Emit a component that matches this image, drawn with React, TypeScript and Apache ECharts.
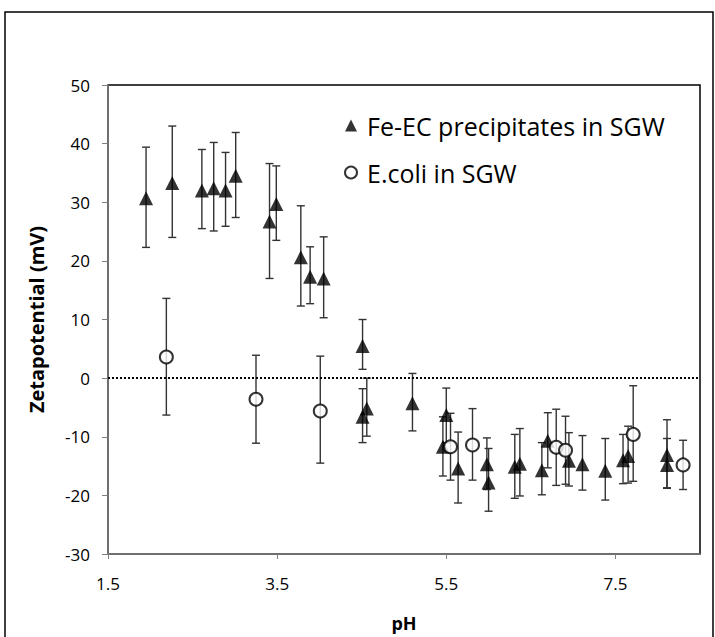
import React, { useEffect, useRef } from "react";
import * as echarts from "echarts";

const feX = [1.95, 2.26, 2.61, 2.75, 2.89, 3.01, 3.41, 3.49, 3.78, 3.89, 4.05, 4.51, 4.51, 4.56, 5.10, 5.50, 5.46, 5.64, 5.98, 6.00, 6.31, 6.37, 6.63, 6.70, 6.95, 7.11, 7.38, 7.59, 7.65, 8.11, 8.11];
const feY = [30.7, 33.3, 32.0, 32.4, 32.0, 34.5, 26.7, 29.7, 20.6, 17.3, 17.0, 5.5, -6.6, -5.2, -4.3, -6.3, -11.7, -15.4, -14.7, -17.8, -15.1, -14.6, -15.7, -10.7, -14.1, -14.7, -15.8, -14.0, -13.3, -13.1, -14.8];
const feHi = [39.4, 43.0, 39.0, 40.2, 38.5, 41.9, 36.6, 36.2, 29.4, 22.4, 24.1, 10.0, -1.8, 0.0, 0.8, -1.7, -6.6, -9.2, -10.2, -12.0, -9.6, -8.6, -11.0, -5.9, -9.3, -9.8, -10.3, -9.6, -8.2, -7.1, -10.3];
const feLo = [22.3, 24.0, 25.5, 25.1, 25.9, 27.4, 17.0, 23.5, 12.3, 12.7, 10.3, 1.5, -11.0, -9.9, -9.0, -11.0, -16.7, -21.3, -19.0, -22.7, -20.5, -20.1, -19.9, -15.3, -18.4, -19.1, -20.8, -18.0, -17.9, -18.8, -18.7];

const ecX = [2.19, 3.25, 4.01, 5.55, 5.81, 6.80, 6.91, 7.71, 8.30];
const ecY = [3.6, -3.6, -5.6, -11.7, -11.4, -11.8, -12.3, -9.6, -14.8];
const ecHi = [13.6, 3.9, 3.75, -6.0, -5.2, -5.3, -6.5, -1.3, -10.6];
const ecLo = [-6.3, -11.1, -14.5, -17.4, -17.4, -18.3, -18.1, -17.6, -19.0];

const seriesNames = ["Fe-EC precipitates in SGW", "E.coli in SGW"];
const xTitle = "pH";
const yTitle = "Zetapotential (mV)";

const FONT = "'Open Sans', sans-serif";

function errRender(params: any, api: any) {
  const x = api.value(0);
  const lo = api.coord([x, api.value(1)]);
  const hi = api.coord([x, api.value(2)]);
  const cap = 4;
  const style = { stroke: "#333", lineWidth: 1.4 };
  return {
    type: "group",
    children: [
      { type: "line", shape: { x1: lo[0], y1: lo[1], x2: hi[0], y2: hi[1] }, style },
      { type: "line", shape: { x1: lo[0] - cap, y1: lo[1], x2: lo[0] + cap, y2: lo[1] }, style },
      { type: "line", shape: { x1: hi[0] - cap, y1: hi[1], x2: hi[0] + cap, y2: hi[1] }, style },
    ],
  };
}

export default function App() {
  const ref = useRef<HTMLDivElement>(null);
  useEffect(() => {
    if (!ref.current) return;
    const chart = echarts.init(ref.current, null, { renderer: "svg" });
    const feErr = feX.map((x, i) => [x, feLo[i], feHi[i]]);
    const ecErr = ecX.map((x, i) => [x, ecLo[i], ecHi[i]]);
    chart.setOption({
      animation: false,
      backgroundColor: "#fff",
      textStyle: { fontFamily: FONT },
      graphic: [
        {
          type: "rect",
          shape: { x: 5, y: 12, width: 708, height: 640 },
          style: { fill: "none", stroke: "#000", lineWidth: 1.5 },
          z: 100,
        },
      ],
      grid: {
        left: 108,
        right: 15,
        top: 85,
        bottom: 83,
        show: true,
        borderColor: "#000",
        borderWidth: 1.5,
        backgroundColor: "#fff",
      },
      legend: {
        orient: "vertical",
        left: 339,
        top: 108,
        itemGap: 22,
        itemWidth: 12,
        itemHeight: 12,
        textStyle: { fontFamily: FONT, fontSize: 25, color: "#000", padding: [0, 0, 0, 5] },
        data: [
          { name: seriesNames[0], icon: "triangle" },
          { name: seriesNames[1], icon: "circle" },
        ],
      },
      xAxis: {
        type: "value",
        min: 1.5,
        max: 8.5,
        interval: 2,
        name: xTitle,
        nameLocation: "middle",
        nameGap: 60,
        nameTextStyle: { fontFamily: FONT, fontSize: 18, fontWeight: "bold", color: "#000" },
        axisLine: { show: true, onZero: false, lineStyle: { color: "#808080", width: 1.5 } },
        axisTick: { show: true, inside: false, length: 5, lineStyle: { color: "#808080" } },
        axisLabel: {
          margin: 21,
          fontSize: 17,
          color: "#000",
          fontFamily: FONT,
          showMaxLabel: false,
          formatter: (v: number) => v.toFixed(1),
        },
        splitLine: { show: false },
      },
      yAxis: {
        type: "value",
        min: -30,
        max: 50,
        interval: 10,
        name: yTitle,
        nameLocation: "middle",
        nameGap: 62,
        nameTextStyle: { fontFamily: FONT, fontSize: 20, fontWeight: "bold", color: "#000" },
        axisLine: { show: true, onZero: false, lineStyle: { color: "#808080", width: 1.5 } },
        axisTick: { show: true, inside: false, length: 6, lineStyle: { color: "#808080" } },
        axisLabel: { margin: 18, fontSize: 17, color: "#000", fontFamily: FONT },
        splitLine: { show: false },
      },
      series: [
        {
          type: "custom",
          name: "feErr",
          renderItem: errRender,
          data: feErr,
          z: 2,
          silent: true,
          encode: { x: 0, y: [1, 2] },
        },
        {
          type: "custom",
          name: "ecErr",
          renderItem: errRender,
          data: ecErr,
          z: 2,
          silent: true,
          encode: { x: 0, y: [1, 2] },
        },
        {
          type: "scatter",
          name: seriesNames[0],
          symbol: "triangle",
          symbolSize: 14,
          itemStyle: { color: "#000" },
          data: feX.map((x, i) => [x, feY[i]]),
          z: 5,
          markLine: {
            silent: true,
            symbol: "none",
            label: { show: false },
            lineStyle: { color: "#000", type: [2, 2], width: 2.2 },
            data: [{ yAxis: 0 }],
          },
        },
        {
          type: "scatter",
          name: seriesNames[1],
          symbol: "circle",
          symbolSize: 13,
          itemStyle: { color: "#fff", borderColor: "#000", borderWidth: 2 },
          data: ecX.map((x, i) => [x, ecY[i]]),
          z: 6,
        },
      ],
    });
    return () => chart.dispose();
  }, []);
  return (
    <div
      ref={ref}
      style={{ position: "fixed", left: 0, top: 0, width: 715, height: 637 }}
    />
  );
}
